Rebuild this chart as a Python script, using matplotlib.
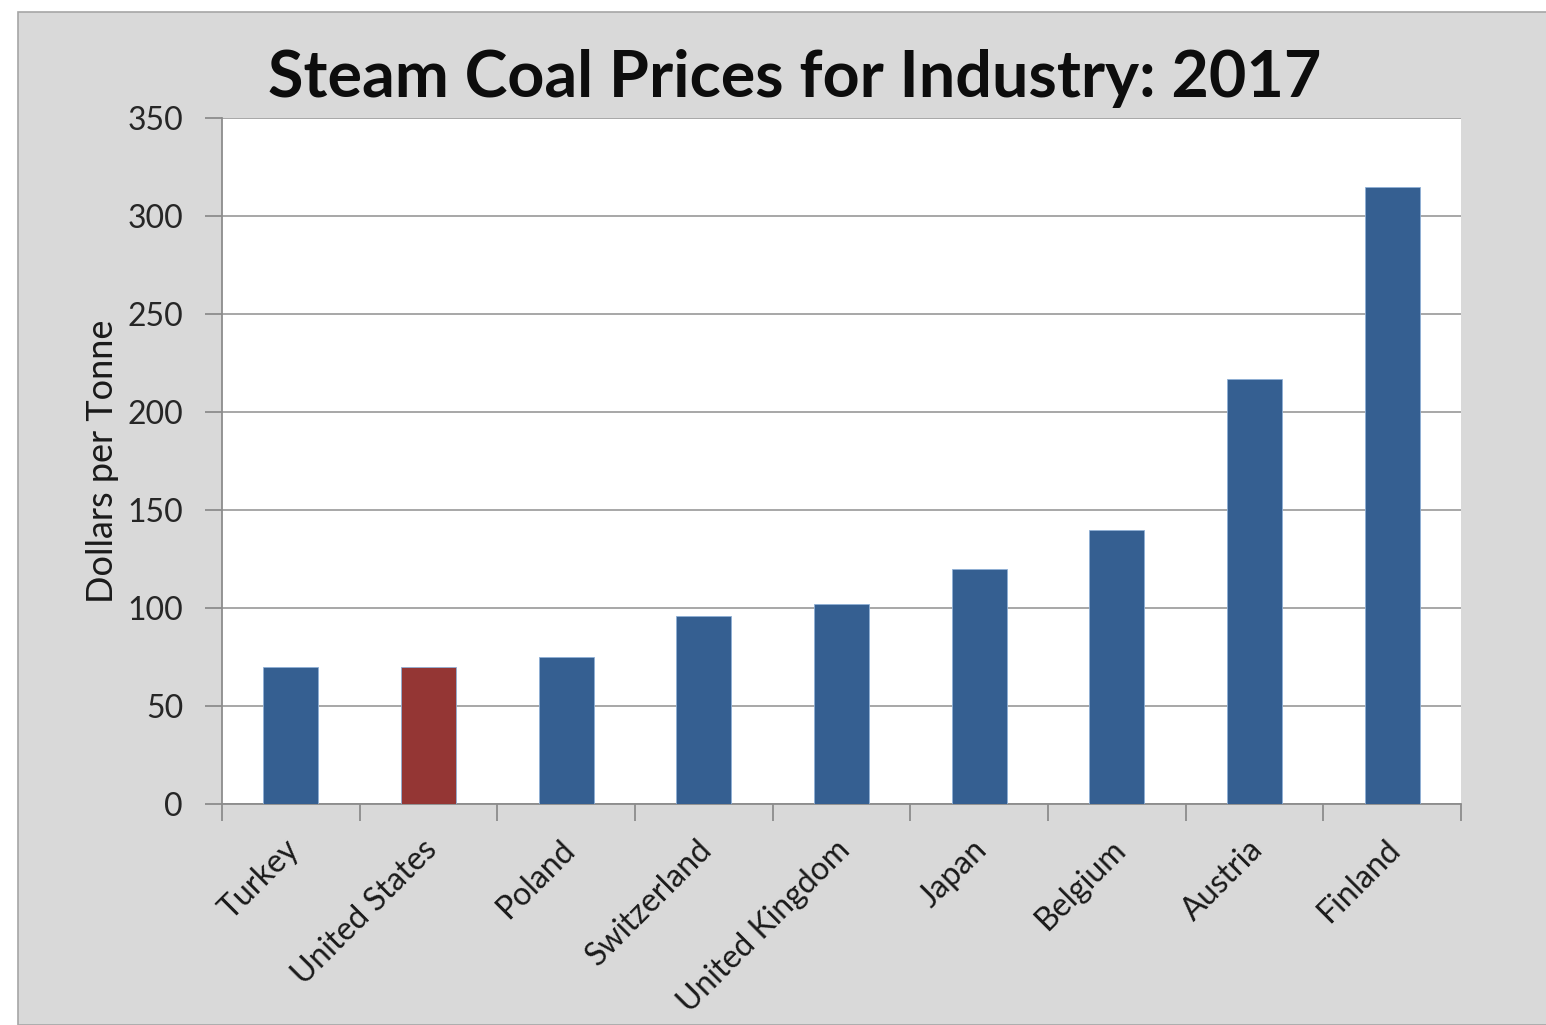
'''
Steam coal prices for industry, 2017 (bar chart).
'''

import matplotlib
matplotlib.use('Agg')
import matplotlib.pyplot as plt
import matplotlib.transforms as mtransforms
from matplotlib.patches import Rectangle

plt.rcParams['font.family'] = ['Lato', 'DejaVu Sans']

# data
countries = ['Turkey', 'United States', 'Poland', 'Switzerland', 'United Kingdom',
             'Japan', 'Belgium', 'Austria', 'Finland']
prices = [70, 70, 75, 96, 102, 120, 140, 217, 315]
yticks = [0, 50, 100, 150, 200, 250, 300, 350]

blue = '#355f91'
red = '#943634'
colors = [red if c == 'United States' else blue for c in countries]

fig = plt.figure(figsize=(15.46, 10.25), dpi=100)
fig.patch.set_facecolor('white')
# grey chart area with thin border
fig.patches.append(Rectangle((18 / 1546, 0), 1, 1 - 12 / 1025, transform=fig.transFigure,
                             facecolor='#d9d9d9', edgecolor='#a6a6a6', linewidth=1.2, zorder=-5))

ax = fig.add_axes([222 / 1546, 1 - 804 / 1025, (1461 - 222) / 1546, (804 - 118) / 1025])
ax.set_facecolor('white')

x = range(len(countries))
ax.bar(x, prices, width=0.4, color=colors, edgecolor='#8fb0d6', linewidth=0.6, zorder=3)

ax.set_xlim(-0.5, len(countries) - 0.5)
ax.set_ylim(0, 350)
ax.set_yticks(yticks)
ax.set_yticklabels([str(v) for v in yticks], fontsize=23, color='#262626')
ax.yaxis.grid(True, color='#a0a0a0', linewidth=1.3, zorder=1)
ax.tick_params(axis='y', length=12, width=1.3, color='#8c8c8c', pad=16)

ax.set_xticks(x)
ax.set_xticklabels(countries, rotation=45, ha='right', rotation_mode='anchor',
                   fontsize=23, color='#1a1a1a')
ax.tick_params(axis='x', length=0, pad=22)
# nudge the slanted labels a little to the left
shift = mtransforms.ScaledTranslation(-7 / 100, 0, fig.dpi_scale_trans)
for lbl in ax.get_xticklabels():
    lbl.set_transform(lbl.get_transform() + shift)
ax.set_xticks([i - 0.5 for i in range(len(countries) + 1)], minor=True)
ax.tick_params(axis='x', which='minor', length=12, width=1.3, color='#8c8c8c')

for s in ['top', 'right']:
    ax.spines[s].set_visible(False)
for s in ['left', 'bottom']:
    ax.spines[s].set_color('#8c8c8c')
    ax.spines[s].set_linewidth(1.3)

ax.set_ylabel('Dollars per Tonne', fontsize=26, color='#1a1a1a', labelpad=6)
fig.text(795 / 1546, 1 - 78 / 1025, 'Steam Coal Prices for Industry: 2017',
         ha='center', va='center', fontsize=46.5, fontweight='bold', color='#0d0d0d')

fig.savefig('out.png', dpi=100)
